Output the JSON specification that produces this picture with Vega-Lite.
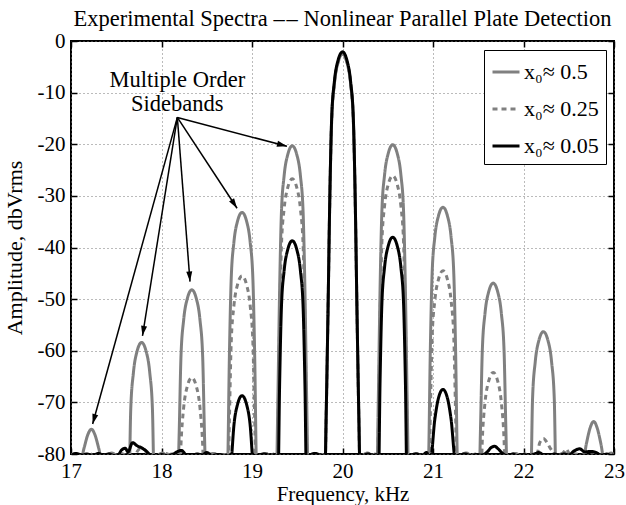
{
  "$schema": "https://vega.github.io/schema/vega-lite/v6.json",
  "width": 543,
  "height": 413,
  "autosize": {"type": "none"},
  "padding": {"left": 71, "top": 41, "right": 12, "bottom": 51},
  "background": "white",
  "title": {"text": "Experimental Spectra –\u200a– Nonlinear Parallel Plate Detection", "font": "Liberation Serif", "fontSize": 22.5, "fontWeight": "normal", "color": "black", "anchor": "middle", "offset": 0},
  "config": {
    "font": "Liberation Serif",
    "view": {"stroke": "black", "strokeWidth": 2},
    "axis": {"labelFont": "Liberation Serif", "titleFont": "Liberation Serif", "labelFontSize": 21, "titleFontSize": 21, "titleFontWeight": "normal", "labelColor": "black", "titleColor": "black", "tickColor": "black", "tickWidth": 1.5, "tickSize": -6, "domain": false, "gridDash": [1, 3], "gridColor": "#777777", "gridWidth": 1, "labelFlush": false, "labelOverlap": false}
  },
  "datasets": {
    "spectra": [
      {"s":"0.5","f":17.00,"a":-80.2},{"s":"0.5","f":17.04,"a":-79.9},{"s":"0.5","f":17.08,"a":-80.3},{"s":"0.5","f":17.11,"a":-81},{"s":"0.5","f":17.145,"a":-78.8},{"s":"0.5","f":17.185,"a":-76.3},{"s":"0.5","f":17.225,"a":-75.2},{"s":"0.5","f":17.265,"a":-76.3},{"s":"0.5","f":17.305,"a":-78.8},{"s":"0.5","f":17.34,"a":-81},{"s":"0.5","f":17.39,"a":-80.3},{"s":"0.5","f":17.45,"a":-79.8},{"s":"0.5","f":17.51,"a":-80.3},{"s":"0.5","f":17.56,"a":-80.0},{"s":"0.5","f":17.6,"a":-80.4},{"s":"0.5","f":17.64,"a":-86},{"s":"0.5","f":17.66,"a":-71.4},{"s":"0.5","f":17.69,"a":-64.2},{"s":"0.5","f":17.73,"a":-60.1},{"s":"0.5","f":17.78,"a":-58.4},{"s":"0.5","f":17.83,"a":-60.1},{"s":"0.5","f":17.87,"a":-64.2},{"s":"0.5","f":17.9,"a":-71.4},{"s":"0.5","f":17.92,"a":-86},{"s":"0.5","f":17.96,"a":-80.4},{"s":"0.5","f":18.01,"a":-79.8},{"s":"0.5","f":18.06,"a":-80.3},{"s":"0.5","f":18.11,"a":-80.0},{"s":"0.5","f":18.15,"a":-80.2},{"s":"0.5","f":18.175,"a":-88},{"s":"0.5","f":18.195,"a":-76.2},{"s":"0.5","f":18.215,"a":-61.2},{"s":"0.5","f":18.245,"a":-54.0},{"s":"0.5","f":18.285,"a":-49.9},{"s":"0.5","f":18.335,"a":-48.2},{"s":"0.5","f":18.385,"a":-49.9},{"s":"0.5","f":18.425,"a":-54.0},{"s":"0.5","f":18.455,"a":-61.2},{"s":"0.5","f":18.475,"a":-76.2},{"s":"0.5","f":18.495,"a":-88},{"s":"0.5","f":18.52,"a":-80.3},{"s":"0.5","f":18.57,"a":-79.9},{"s":"0.5","f":18.62,"a":-80.2},{"s":"0.5","f":18.67,"a":-80.4},{"s":"0.5","f":18.71,"a":-88},{"s":"0.5","f":18.73,"a":-83.2},{"s":"0.5","f":18.75,"a":-61.2},{"s":"0.5","f":18.77,"a":-46.2},{"s":"0.5","f":18.80,"a":-39.0},{"s":"0.5","f":18.84,"a":-34.9},{"s":"0.5","f":18.89,"a":-33.2},{"s":"0.5","f":18.94,"a":-34.9},{"s":"0.5","f":18.98,"a":-39.0},{"s":"0.5","f":19.01,"a":-46.2},{"s":"0.5","f":19.03,"a":-61.2},{"s":"0.5","f":19.05,"a":-83.2},{"s":"0.5","f":19.07,"a":-88},{"s":"0.5","f":19.1,"a":-80.2},{"s":"0.5","f":19.15,"a":-79.9},{"s":"0.5","f":19.2,"a":-80.3},{"s":"0.5","f":19.24,"a":-80.1},{"s":"0.5","f":19.265,"a":-88},{"s":"0.5","f":19.285,"a":-70.3},{"s":"0.5","f":19.305,"a":-48.3},{"s":"0.5","f":19.325,"a":-33.3},{"s":"0.5","f":19.355,"a":-26.1},{"s":"0.5","f":19.395,"a":-22.0},{"s":"0.5","f":19.445,"a":-20.3},{"s":"0.5","f":19.495,"a":-22.0},{"s":"0.5","f":19.535,"a":-26.1},{"s":"0.5","f":19.565,"a":-33.3},{"s":"0.5","f":19.585,"a":-48.3},{"s":"0.5","f":19.605,"a":-70.3},{"s":"0.5","f":19.625,"a":-88},{"s":"0.5","f":19.66,"a":-80.3},{"s":"0.5","f":19.7,"a":-79.9},{"s":"0.5","f":19.74,"a":-80.2},{"s":"0.5","f":19.78,"a":-80.4},{"s":"0.5","f":19.8,"a":-88},{"s":"0.5","f":19.82,"a":-72.5},{"s":"0.5","f":19.84,"a":-52.5},{"s":"0.5","f":19.86,"a":-30.5},{"s":"0.5","f":19.88,"a":-15.5},{"s":"0.5","f":19.91,"a":-8.3},{"s":"0.5","f":19.95,"a":-4.2},{"s":"0.5","f":20.0,"a":-2.5},{"s":"0.5","f":20.05,"a":-4.2},{"s":"0.5","f":20.09,"a":-8.3},{"s":"0.5","f":20.12,"a":-15.5},{"s":"0.5","f":20.14,"a":-30.5},{"s":"0.5","f":20.16,"a":-52.5},{"s":"0.5","f":20.18,"a":-72.5},{"s":"0.5","f":20.2,"a":-88},{"s":"0.5","f":20.23,"a":-80.2},{"s":"0.5","f":20.28,"a":-79.8},{"s":"0.5","f":20.33,"a":-80.3},{"s":"0.5","f":20.36,"a":-80.1},{"s":"0.5","f":20.375,"a":-88},{"s":"0.5","f":20.395,"a":-70.1},{"s":"0.5","f":20.415,"a":-48.1},{"s":"0.5","f":20.435,"a":-33.1},{"s":"0.5","f":20.465,"a":-25.9},{"s":"0.5","f":20.505,"a":-21.8},{"s":"0.5","f":20.555,"a":-20.1},{"s":"0.5","f":20.605,"a":-21.8},{"s":"0.5","f":20.645,"a":-25.9},{"s":"0.5","f":20.675,"a":-33.1},{"s":"0.5","f":20.695,"a":-48.1},{"s":"0.5","f":20.715,"a":-70.1},{"s":"0.5","f":20.735,"a":-88},{"s":"0.5","f":20.77,"a":-80.2},{"s":"0.5","f":20.82,"a":-79.9},{"s":"0.5","f":20.87,"a":-80.3},{"s":"0.5","f":20.91,"a":-80.0},{"s":"0.5","f":20.93,"a":-88},{"s":"0.5","f":20.95,"a":-82.2},{"s":"0.5","f":20.97,"a":-60.2},{"s":"0.5","f":20.99,"a":-45.2},{"s":"0.5","f":21.02,"a":-38.0},{"s":"0.5","f":21.06,"a":-33.9},{"s":"0.5","f":21.11,"a":-32.2},{"s":"0.5","f":21.16,"a":-33.9},{"s":"0.5","f":21.2,"a":-38.0},{"s":"0.5","f":21.23,"a":-45.2},{"s":"0.5","f":21.25,"a":-60.2},{"s":"0.5","f":21.27,"a":-82.2},{"s":"0.5","f":21.29,"a":-88},{"s":"0.5","f":21.32,"a":-80.2},{"s":"0.5","f":21.37,"a":-79.8},{"s":"0.5","f":21.42,"a":-80.3},{"s":"0.5","f":21.47,"a":-80.0},{"s":"0.5","f":21.505,"a":-88},{"s":"0.5","f":21.525,"a":-74.9},{"s":"0.5","f":21.545,"a":-59.9},{"s":"0.5","f":21.575,"a":-52.7},{"s":"0.5","f":21.615,"a":-48.6},{"s":"0.5","f":21.665,"a":-46.9},{"s":"0.5","f":21.715,"a":-48.6},{"s":"0.5","f":21.755,"a":-52.7},{"s":"0.5","f":21.785,"a":-59.9},{"s":"0.5","f":21.805,"a":-74.9},{"s":"0.5","f":21.825,"a":-88},{"s":"0.5","f":21.86,"a":-80.2},{"s":"0.5","f":21.91,"a":-79.9},{"s":"0.5","f":21.96,"a":-80.3},{"s":"0.5","f":22.02,"a":-80.0},{"s":"0.5","f":22.08,"a":-85},{"s":"0.5","f":22.1,"a":-69.3},{"s":"0.5","f":22.13,"a":-62.1},{"s":"0.5","f":22.17,"a":-58.0},{"s":"0.5","f":22.22,"a":-56.3},{"s":"0.5","f":22.27,"a":-58.0},{"s":"0.5","f":22.31,"a":-62.1},{"s":"0.5","f":22.34,"a":-69.3},{"s":"0.5","f":22.36,"a":-85},{"s":"0.5","f":22.4,"a":-80.2},{"s":"0.5","f":22.45,"a":-79.8},{"s":"0.5","f":22.5,"a":-80.2},{"s":"0.5","f":22.55,"a":-79.9},{"s":"0.5","f":22.6,"a":-80.3},{"s":"0.5","f":22.66,"a":-81},{"s":"0.5","f":22.695,"a":-78.0},{"s":"0.5","f":22.735,"a":-75.0},{"s":"0.5","f":22.775,"a":-73.7},{"s":"0.5","f":22.815,"a":-75.0},{"s":"0.5","f":22.855,"a":-78.0},{"s":"0.5","f":22.89,"a":-81},{"s":"0.5","f":22.93,"a":-80.2},{"s":"0.5","f":22.97,"a":-79.8},{"s":"0.5","f":23.0,"a":-80.3},

      {"s":"0.25","f":17.0,"a":-80.3},{"s":"0.25","f":17.05,"a":-80.0},{"s":"0.25","f":17.1,"a":-80.4},{"s":"0.25","f":17.15,"a":-80.1},{"s":"0.25","f":17.2,"a":-80.3},{"s":"0.25","f":17.25,"a":-79.9},{"s":"0.25","f":17.3,"a":-80.4},{"s":"0.25","f":17.35,"a":-80.0},{"s":"0.25","f":17.4,"a":-80.3},{"s":"0.25","f":17.45,"a":-80.1},{"s":"0.25","f":17.5,"a":-80.2},{"s":"0.25","f":17.55,"a":-79.9},{"s":"0.25","f":17.6,"a":-80.2},{"s":"0.25","f":17.65,"a":-80.4},{"s":"0.25","f":17.7,"a":-80.5},{"s":"0.25","f":17.74,"a":-79.3},{"s":"0.25","f":17.78,"a":-78.9},{"s":"0.25","f":17.82,"a":-79.3},{"s":"0.25","f":17.86,"a":-80.5},{"s":"0.25","f":17.92,"a":-80.1},{"s":"0.25","f":17.98,"a":-80.3},{"s":"0.25","f":18.04,"a":-79.9},{"s":"0.25","f":18.1,"a":-80.2},{"s":"0.25","f":18.15,"a":-80.4},{"s":"0.25","f":18.195,"a":-88},{"s":"0.25","f":18.215,"a":-78.2},{"s":"0.25","f":18.245,"a":-71.0},{"s":"0.25","f":18.285,"a":-66.9},{"s":"0.25","f":18.335,"a":-65.2},{"s":"0.25","f":18.385,"a":-66.9},{"s":"0.25","f":18.425,"a":-71.0},{"s":"0.25","f":18.455,"a":-78.2},{"s":"0.25","f":18.475,"a":-88},{"s":"0.25","f":18.52,"a":-80.2},{"s":"0.25","f":18.58,"a":-79.9},{"s":"0.25","f":18.64,"a":-80.3},{"s":"0.25","f":18.7,"a":-80.1},{"s":"0.25","f":18.73,"a":-88},{"s":"0.25","f":18.75,"a":-73.5},{"s":"0.25","f":18.77,"a":-58.5},{"s":"0.25","f":18.8,"a":-51.3},{"s":"0.25","f":18.84,"a":-47.2},{"s":"0.25","f":18.89,"a":-45.5},{"s":"0.25","f":18.94,"a":-47.2},{"s":"0.25","f":18.98,"a":-51.3},{"s":"0.25","f":19.01,"a":-58.5},{"s":"0.25","f":19.03,"a":-73.5},{"s":"0.25","f":19.05,"a":-88},{"s":"0.25","f":19.09,"a":-80.2},{"s":"0.25","f":19.15,"a":-79.9},{"s":"0.25","f":19.21,"a":-80.3},{"s":"0.25","f":19.24,"a":-80.0},{"s":"0.25","f":19.265,"a":-88},{"s":"0.25","f":19.285,"a":-76.7},{"s":"0.25","f":19.305,"a":-54.7},{"s":"0.25","f":19.325,"a":-39.7},{"s":"0.25","f":19.355,"a":-32.5},{"s":"0.25","f":19.395,"a":-28.4},{"s":"0.25","f":19.445,"a":-26.7},{"s":"0.25","f":19.495,"a":-28.4},{"s":"0.25","f":19.535,"a":-32.5},{"s":"0.25","f":19.565,"a":-39.7},{"s":"0.25","f":19.585,"a":-54.7},{"s":"0.25","f":19.605,"a":-76.7},{"s":"0.25","f":19.625,"a":-88},{"s":"0.25","f":19.66,"a":-80.2},{"s":"0.25","f":19.71,"a":-79.8},{"s":"0.25","f":19.76,"a":-80.3},{"s":"0.25","f":19.78,"a":-80.1},{"s":"0.25","f":19.8,"a":-88},{"s":"0.25","f":19.82,"a":-72.5},{"s":"0.25","f":19.84,"a":-52.5},{"s":"0.25","f":19.86,"a":-30.5},{"s":"0.25","f":19.88,"a":-15.5},{"s":"0.25","f":19.91,"a":-8.3},{"s":"0.25","f":19.95,"a":-4.2},{"s":"0.25","f":20.0,"a":-2.5},{"s":"0.25","f":20.05,"a":-4.2},{"s":"0.25","f":20.09,"a":-8.3},{"s":"0.25","f":20.12,"a":-15.5},{"s":"0.25","f":20.14,"a":-30.5},{"s":"0.25","f":20.16,"a":-52.5},{"s":"0.25","f":20.18,"a":-72.5},{"s":"0.25","f":20.2,"a":-88},{"s":"0.25","f":20.24,"a":-80.1},{"s":"0.25","f":20.29,"a":-79.9},{"s":"0.25","f":20.34,"a":-80.3},{"s":"0.25","f":20.36,"a":-80.0},{"s":"0.25","f":20.375,"a":-88},{"s":"0.25","f":20.395,"a":-76.1},{"s":"0.25","f":20.415,"a":-54.1},{"s":"0.25","f":20.435,"a":-39.1},{"s":"0.25","f":20.465,"a":-31.9},{"s":"0.25","f":20.505,"a":-27.8},{"s":"0.25","f":20.555,"a":-26.1},{"s":"0.25","f":20.605,"a":-27.8},{"s":"0.25","f":20.645,"a":-31.9},{"s":"0.25","f":20.675,"a":-39.1},{"s":"0.25","f":20.695,"a":-54.1},{"s":"0.25","f":20.715,"a":-76.1},{"s":"0.25","f":20.735,"a":-88},{"s":"0.25","f":20.78,"a":-80.2},{"s":"0.25","f":20.83,"a":-79.9},{"s":"0.25","f":20.88,"a":-80.3},{"s":"0.25","f":20.92,"a":-80.0},{"s":"0.25","f":20.95,"a":-88},{"s":"0.25","f":20.97,"a":-72.5},{"s":"0.25","f":20.99,"a":-57.5},{"s":"0.25","f":21.02,"a":-50.3},{"s":"0.25","f":21.06,"a":-46.2},{"s":"0.25","f":21.11,"a":-44.5},{"s":"0.25","f":21.16,"a":-46.2},{"s":"0.25","f":21.2,"a":-50.3},{"s":"0.25","f":21.23,"a":-57.5},{"s":"0.25","f":21.25,"a":-72.5},{"s":"0.25","f":21.27,"a":-88},{"s":"0.25","f":21.31,"a":-80.2},{"s":"0.25","f":21.37,"a":-79.9},{"s":"0.25","f":21.43,"a":-80.3},{"s":"0.25","f":21.48,"a":-80.1},{"s":"0.25","f":21.525,"a":-88},{"s":"0.25","f":21.545,"a":-77.2},{"s":"0.25","f":21.575,"a":-70.0},{"s":"0.25","f":21.615,"a":-65.9},{"s":"0.25","f":21.665,"a":-64.2},{"s":"0.25","f":21.715,"a":-65.9},{"s":"0.25","f":21.755,"a":-70.0},{"s":"0.25","f":21.785,"a":-77.2},{"s":"0.25","f":21.805,"a":-88},{"s":"0.25","f":21.85,"a":-80.2},{"s":"0.25","f":21.91,"a":-79.9},{"s":"0.25","f":21.97,"a":-80.3},{"s":"0.25","f":22.05,"a":-80.0},{"s":"0.25","f":22.1,"a":-80.3},{"s":"0.25","f":22.14,"a":-80.6},{"s":"0.25","f":22.18,"a":-77.8},{"s":"0.25","f":22.22,"a":-77.0},{"s":"0.25","f":22.26,"a":-77.8},{"s":"0.25","f":22.3,"a":-79.0},{"s":"0.25","f":22.35,"a":-80.0},{"s":"0.25","f":22.42,"a":-80.3},{"s":"0.25","f":22.47,"a":-79.0},{"s":"0.25","f":22.52,"a":-80.3},{"s":"0.25","f":22.58,"a":-80.0},{"s":"0.25","f":22.64,"a":-80.2},{"s":"0.25","f":22.7,"a":-79.9},{"s":"0.25","f":22.76,"a":-79.6},{"s":"0.25","f":22.82,"a":-80.2},{"s":"0.25","f":22.88,"a":-80.0},{"s":"0.25","f":22.94,"a":-80.3},{"s":"0.25","f":23.0,"a":-80.1},

      {"s":"0.05","f":17.0,"a":-80.3},{"s":"0.05","f":17.06,"a":-79.9},{"s":"0.05","f":17.12,"a":-80.2},{"s":"0.05","f":17.18,"a":-80.0},{"s":"0.05","f":17.24,"a":-80.3},{"s":"0.05","f":17.3,"a":-79.9},{"s":"0.05","f":17.36,"a":-80.2},{"s":"0.05","f":17.42,"a":-80.0},{"s":"0.05","f":17.48,"a":-80.3},{"s":"0.05","f":17.52,"a":-80.2},{"s":"0.05","f":17.56,"a":-79.2},{"s":"0.05","f":17.6,"a":-78.9},{"s":"0.05","f":17.63,"a":-79.6},{"s":"0.05","f":17.68,"a":-77.8},{"s":"0.05","f":17.73,"a":-78.4},{"s":"0.05","f":17.78,"a":-78.8},{"s":"0.05","f":17.83,"a":-79.4},{"s":"0.05","f":17.88,"a":-80.2},{"s":"0.05","f":17.95,"a":-80.4},{"s":"0.05","f":18.0,"a":-80.1},{"s":"0.05","f":18.06,"a":-80.3},{"s":"0.05","f":18.12,"a":-80.1},{"s":"0.05","f":18.17,"a":-79.6},{"s":"0.05","f":18.22,"a":-79.3},{"s":"0.05","f":18.27,"a":-80.1},{"s":"0.05","f":18.33,"a":-80.3},{"s":"0.05","f":18.39,"a":-80.0},{"s":"0.05","f":18.45,"a":-80.2},{"s":"0.05","f":18.5,"a":-79.7},{"s":"0.05","f":18.56,"a":-80.3},{"s":"0.05","f":18.62,"a":-80.1},{"s":"0.05","f":18.68,"a":-80.3},{"s":"0.05","f":18.74,"a":-86},{"s":"0.05","f":18.77,"a":-81.7},{"s":"0.05","f":18.8,"a":-74.5},{"s":"0.05","f":18.84,"a":-70.4},{"s":"0.05","f":18.89,"a":-68.7},{"s":"0.05","f":18.94,"a":-70.4},{"s":"0.05","f":18.98,"a":-74.5},{"s":"0.05","f":19.01,"a":-81.7},{"s":"0.05","f":19.04,"a":-86},{"s":"0.05","f":19.08,"a":-80.2},{"s":"0.05","f":19.14,"a":-80.0},{"s":"0.05","f":19.2,"a":-80.3},{"s":"0.05","f":19.25,"a":-80.1},{"s":"0.05","f":19.285,"a":-88},{"s":"0.05","f":19.305,"a":-66.7},{"s":"0.05","f":19.325,"a":-51.7},{"s":"0.05","f":19.355,"a":-44.5},{"s":"0.05","f":19.395,"a":-40.4},{"s":"0.05","f":19.445,"a":-38.7},{"s":"0.05","f":19.495,"a":-40.4},{"s":"0.05","f":19.535,"a":-44.5},{"s":"0.05","f":19.565,"a":-51.7},{"s":"0.05","f":19.585,"a":-66.7},{"s":"0.05","f":19.605,"a":-88},{"s":"0.05","f":19.64,"a":-80.2},{"s":"0.05","f":19.7,"a":-79.9},{"s":"0.05","f":19.75,"a":-80.2},{"s":"0.05","f":19.78,"a":-80.4},{"s":"0.05","f":19.8,"a":-88},{"s":"0.05","f":19.82,"a":-72.1},{"s":"0.05","f":19.84,"a":-52.1},{"s":"0.05","f":19.86,"a":-30.1},{"s":"0.05","f":19.88,"a":-15.1},{"s":"0.05","f":19.91,"a":-7.9},{"s":"0.05","f":19.95,"a":-3.8},{"s":"0.05","f":20.0,"a":-2.1},{"s":"0.05","f":20.05,"a":-3.8},{"s":"0.05","f":20.09,"a":-7.9},{"s":"0.05","f":20.12,"a":-15.1},{"s":"0.05","f":20.14,"a":-30.1},{"s":"0.05","f":20.16,"a":-52.1},{"s":"0.05","f":20.18,"a":-72.1},{"s":"0.05","f":20.2,"a":-88},{"s":"0.05","f":20.24,"a":-80.2},{"s":"0.05","f":20.29,"a":-80.0},{"s":"0.05","f":20.34,"a":-80.3},{"s":"0.05","f":20.37,"a":-80.1},{"s":"0.05","f":20.395,"a":-88},{"s":"0.05","f":20.415,"a":-66.0},{"s":"0.05","f":20.435,"a":-51.0},{"s":"0.05","f":20.465,"a":-43.8},{"s":"0.05","f":20.505,"a":-39.7},{"s":"0.05","f":20.555,"a":-38.0},{"s":"0.05","f":20.605,"a":-39.7},{"s":"0.05","f":20.645,"a":-43.8},{"s":"0.05","f":20.675,"a":-51.0},{"s":"0.05","f":20.695,"a":-66.0},{"s":"0.05","f":20.715,"a":-88},{"s":"0.05","f":20.76,"a":-80.2},{"s":"0.05","f":20.82,"a":-80.0},{"s":"0.05","f":20.88,"a":-80.3},{"s":"0.05","f":20.93,"a":-79.7},{"s":"0.05","f":20.97,"a":-81.5},{"s":"0.05","f":21.02,"a":-73.3},{"s":"0.05","f":21.06,"a":-69.2},{"s":"0.05","f":21.11,"a":-67.5},{"s":"0.05","f":21.16,"a":-69.2},{"s":"0.05","f":21.2,"a":-73.3},{"s":"0.05","f":21.25,"a":-81.5},{"s":"0.05","f":21.3,"a":-80.2},{"s":"0.05","f":21.36,"a":-80.0},{"s":"0.05","f":21.42,"a":-80.3},{"s":"0.05","f":21.48,"a":-80.1},{"s":"0.05","f":21.54,"a":-80.2},{"s":"0.05","f":21.6,"a":-79.6},{"s":"0.05","f":21.64,"a":-78.8},{"s":"0.05","f":21.68,"a":-78.5},{"s":"0.05","f":21.72,"a":-79.0},{"s":"0.05","f":21.77,"a":-79.9},{"s":"0.05","f":21.82,"a":-80.3},{"s":"0.05","f":21.88,"a":-80.0},{"s":"0.05","f":21.94,"a":-80.4},{"s":"0.05","f":22.0,"a":-80.1},{"s":"0.05","f":22.06,"a":-80.3},{"s":"0.05","f":22.12,"a":-80.0},{"s":"0.05","f":22.17,"a":-79.7},{"s":"0.05","f":22.22,"a":-80.2},{"s":"0.05","f":22.28,"a":-80.3},{"s":"0.05","f":22.34,"a":-80.0},{"s":"0.05","f":22.4,"a":-80.2},{"s":"0.05","f":22.45,"a":-80.0},{"s":"0.05","f":22.5,"a":-80.2},{"s":"0.05","f":22.56,"a":-79.4},{"s":"0.05","f":22.62,"a":-79.0},{"s":"0.05","f":22.68,"a":-79.6},{"s":"0.05","f":22.74,"a":-79.5},{"s":"0.05","f":22.8,"a":-79.7},{"s":"0.05","f":22.86,"a":-80.2},{"s":"0.05","f":22.92,"a":-80.0},{"s":"0.05","f":22.97,"a":-80.3},{"s":"0.05","f":23.0,"a":-80.1}
    ],
    "arrows": [
      {"x0": 18.175, "y0": -14.8, "x1": 17.239, "y1": -74.2},
      {"x0": 18.175, "y0": -14.8, "x1": 17.79, "y1": -57.1},
      {"x0": 18.175, "y0": -14.8, "x1": 18.315, "y1": -46.6},
      {"x0": 18.175, "y0": -14.8, "x1": 18.835, "y1": -32.4},
      {"x0": 18.175, "y0": -14.8, "x1": 19.386, "y1": -20.4}
    ],
    "note": [
      {"x": 18.175, "y": -9.0, "label": ["Multiple Order", "Sidebands"]}
    ]
  },
  "layer": [
    {
      "layer": [
        {
          "data": {"name": "spectra"},
          "transform": [{"filter": "datum.s === '0.5'"}],
          "mark": {"type": "line", "interpolate": "monotone", "strokeWidth": 3, "clip": true},
          "encoding": {
            "x": {"field": "f", "type": "quantitative", "scale": {"domain": [17, 23], "nice": false, "zero": false}, "axis": {"values": [17, 18, 19, 20, 21, 22, 23], "format": "d", "grid": true, "labelPadding": 12, "titlePadding": 2}, "title": "Frequency, kHz"},
            "y": {"field": "a", "type": "quantitative", "scale": {"domain": [-80, 0], "nice": false, "zero": false}, "axis": {"values": [-80, -70, -60, -50, -40, -30, -20, -10, 0], "grid": true, "labelPadding": 12, "titlePadding": 11, "titleFontSize": 22, "labelExpr": "'' + datum.value"}, "title": "Amplitude, dbVrms"},
            "color": {"field": "s", "type": "nominal", "scale": {"domain": ["0.5", "0.25", "0.05"], "range": ["#808080", "#808080", "#000000"]}, "legend": {"orient": "none", "legendX": 413, "legendY": 9, "title": null, "strokeColor": "black", "fillColor": "white", "padding": 7, "labelFont": "Liberation Serif", "labelFontSize": 22, "labelColor": "black", "symbolType": "stroke", "symbolSize": 729, "symbolStrokeWidth": 3, "rowPadding": 11, "labelOffset": 3, "labelLimit": 300, "labelExpr": "'x₀≈ ' + datum.label"}},
            "strokeDash": {"field": "s", "type": "nominal", "scale": {"domain": ["0.5", "0.25", "0.05"], "range": [[1, 0], [5, 4], [1, 0]]}, "legend": {"orient": "none", "legendX": 413, "legendY": 9, "title": null, "strokeColor": "black", "fillColor": "white", "padding": 7, "labelFont": "Liberation Serif", "labelFontSize": 22, "labelColor": "black", "symbolType": "stroke", "symbolSize": 729, "symbolStrokeWidth": 3, "rowPadding": 11, "labelOffset": 3, "labelLimit": 300, "labelExpr": "'x₀≈ ' + datum.label"}}
          }
        },
        {
          "data": {"name": "spectra"},
          "transform": [{"filter": "datum.s === '0.25'"}],
          "mark": {"type": "line", "interpolate": "monotone", "strokeWidth": 3, "clip": true},
          "encoding": {
            "x": {"field": "f", "type": "quantitative", "title": "Frequency, kHz"},
            "y": {"field": "a", "type": "quantitative", "title": "Amplitude, dbVrms"},
            "color": {"field": "s", "type": "nominal"},
            "strokeDash": {"field": "s", "type": "nominal"}
          }
        },
        {
          "data": {"name": "spectra"},
          "transform": [{"filter": "datum.s === '0.05'"}],
          "mark": {"type": "line", "interpolate": "monotone", "strokeWidth": 3, "clip": true},
          "encoding": {
            "x": {"field": "f", "type": "quantitative", "title": "Frequency, kHz"},
            "y": {"field": "a", "type": "quantitative", "title": "Amplitude, dbVrms"},
            "color": {"field": "s", "type": "nominal"},
            "strokeDash": {"field": "s", "type": "nominal"}
          }
        },
        {
          "data": {"name": "arrows"},
          "mark": {"type": "rule", "color": "black", "strokeWidth": 1.5},
          "encoding": {
            "x": {"field": "x0", "type": "quantitative", "title": "Frequency, kHz"},
            "y": {"field": "y0", "type": "quantitative", "title": "Amplitude, dbVrms"},
            "x2": {"field": "x1"},
            "y2": {"field": "y1"}
          }
        },
        {
          "data": {"name": "arrows"},
          "transform": [{"calculate": "atan2((datum.x1 - datum.x0) * 543 / 6, (datum.y1 - datum.y0) * 413 / 80) * 180 / PI", "as": "ang"}],
          "mark": {"type": "point", "shape": "M0,0L-0.3,1L0.3,1Z", "filled": true, "size": 400, "color": "black", "opacity": 1},
          "encoding": {
            "x": {"field": "x1", "type": "quantitative", "title": "Frequency, kHz"},
            "y": {"field": "y1", "type": "quantitative", "title": "Amplitude, dbVrms"},
            "angle": {"field": "ang", "type": "quantitative", "scale": null}
          }
        }
      ]
    },
    {
      "data": {"name": "note"},
      "mark": {"type": "text", "font": "Liberation Serif", "fontSize": 22.5, "align": "center", "baseline": "alphabetic", "lineHeight": 24, "color": "black"},
      "encoding": {
        "x": {"field": "x", "type": "quantitative", "axis": {"orient": "top", "values": [17, 18, 19, 20, 21, 22, 23], "labels": false, "grid": false, "title": null}},
        "y": {"field": "y", "type": "quantitative", "axis": {"orient": "right", "values": [-80, -70, -60, -50, -40, -30, -20, -10, 0], "labels": false, "grid": false, "title": null}},
        "text": {"field": "label"}
      }
    }
  ],
  "resolve": {"axis": {"x": "independent", "y": "independent"}}
}
